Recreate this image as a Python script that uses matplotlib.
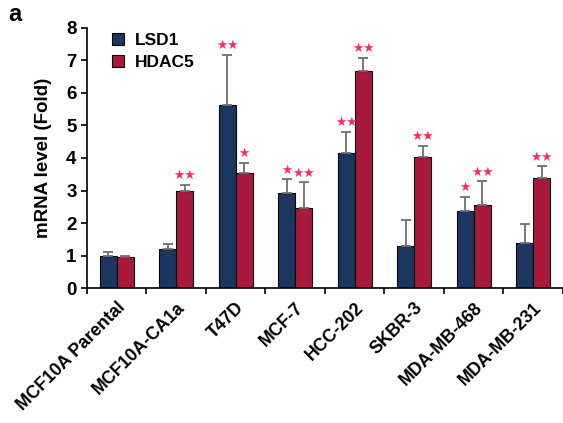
import matplotlib
matplotlib.use('Agg')
import matplotlib.pyplot as plt
import numpy as np

cells = ['MCF10A Parental', 'MCF10A-CA1a', 'T47D', 'MCF-7', 'HCC-202',
         'SKBR-3', 'MDA-MB-468', 'MDA-MB-231']
lsd1 = [1.0, 1.2, 5.63, 2.93, 4.15, 1.3, 2.36, 1.39]
lsd1_err = [0.1, 0.15, 1.54, 0.42, 0.65, 0.79, 0.44, 0.59]
hdac5 = [0.97, 3.0, 3.53, 2.46, 6.68, 4.04, 2.54, 3.39]
hdac5_err = [0.02, 0.17, 0.32, 0.8, 0.41, 0.33, 0.74, 0.36]
lsd1_sig = ['', '', '**', '*', '**', '', '*', '']
hdac5_sig = ['', '**', '*', '**', '**', '**', '**', '**']

navy = '#1b3660'
crimson = '#a8193c'
star_col = '#ff2a55'

plt.rcParams['font.family'] = ['Liberation Sans', 'DejaVu Sans']
plt.rcParams['font.weight'] = 'bold'

fig = plt.figure(figsize=(5.63, 4.23), dpi=100)
ax = fig.add_axes([0.1545, 0.319, 0.8455, 0.615])

x = np.arange(len(cells)) + 0.5
w = 0.286
ekw = dict(ecolor='#707070', elinewidth=1.3, capsize=3.5, capthick=1.3)
ax.bar(x - w / 2, lsd1, w, color=navy, edgecolor='black', linewidth=0.8,
       yerr=[np.zeros(len(cells)), lsd1_err], error_kw=ekw, label='LSD1', zorder=2)
ax.bar(x + w / 2, hdac5, w, color=crimson, edgecolor='black', linewidth=0.8,
       yerr=[np.zeros(len(cells)), hdac5_err], error_kw=ekw, label='HDAC5', zorder=2)

# significance stars above the error bars
for i in range(len(cells)):
    if lsd1_sig[i]:
        ax.text(x[i] - w / 2, lsd1[i] + lsd1_err[i] + 0.28, lsd1_sig[i].replace('*', '★'),
                ha='center', va='center', color=star_col, fontsize=9, family='DejaVu Sans')
    if hdac5_sig[i]:
        ax.text(x[i] + w / 2, hdac5[i] + hdac5_err[i] + 0.28, hdac5_sig[i].replace('*', '★'),
                ha='center', va='center', color=star_col, fontsize=9, family='DejaVu Sans')

ax.set_xlim(0, len(cells))
ax.set_ylim(0, 8)
ax.set_yticks(range(9))
ax.tick_params(axis='y', labelsize=13.5, width=1.2, length=4)
ax.set_xticks(x)
ax.set_xticklabels(cells, rotation=45, ha='right', rotation_mode='anchor', fontsize=12.8)
ax.tick_params(axis='x', length=0, pad=8)
ax.set_xticks(np.arange(len(cells) + 1), minor=True)
ax.tick_params(axis='x', which='minor', length=4, width=1.2)
ax.set_ylabel('mRNA level (Fold)', fontsize=13.5, fontweight='bold', labelpad=10)

for s in ['top', 'right']:
    ax.spines[s].set_visible(False)
for s in ['left', 'bottom']:
    ax.spines[s].set_linewidth(1.2)

ax.legend(loc='upper left', bbox_to_anchor=(0.02, 1.04), frameon=False, fontsize=12.5,
          handlelength=0.7, handleheight=0.7, handletextpad=0.6, labelspacing=0.4)

fig.text(0.014, 0.965, 'a', fontsize=17, fontweight='bold', va='center')

fig.savefig('out.png', dpi=100)
